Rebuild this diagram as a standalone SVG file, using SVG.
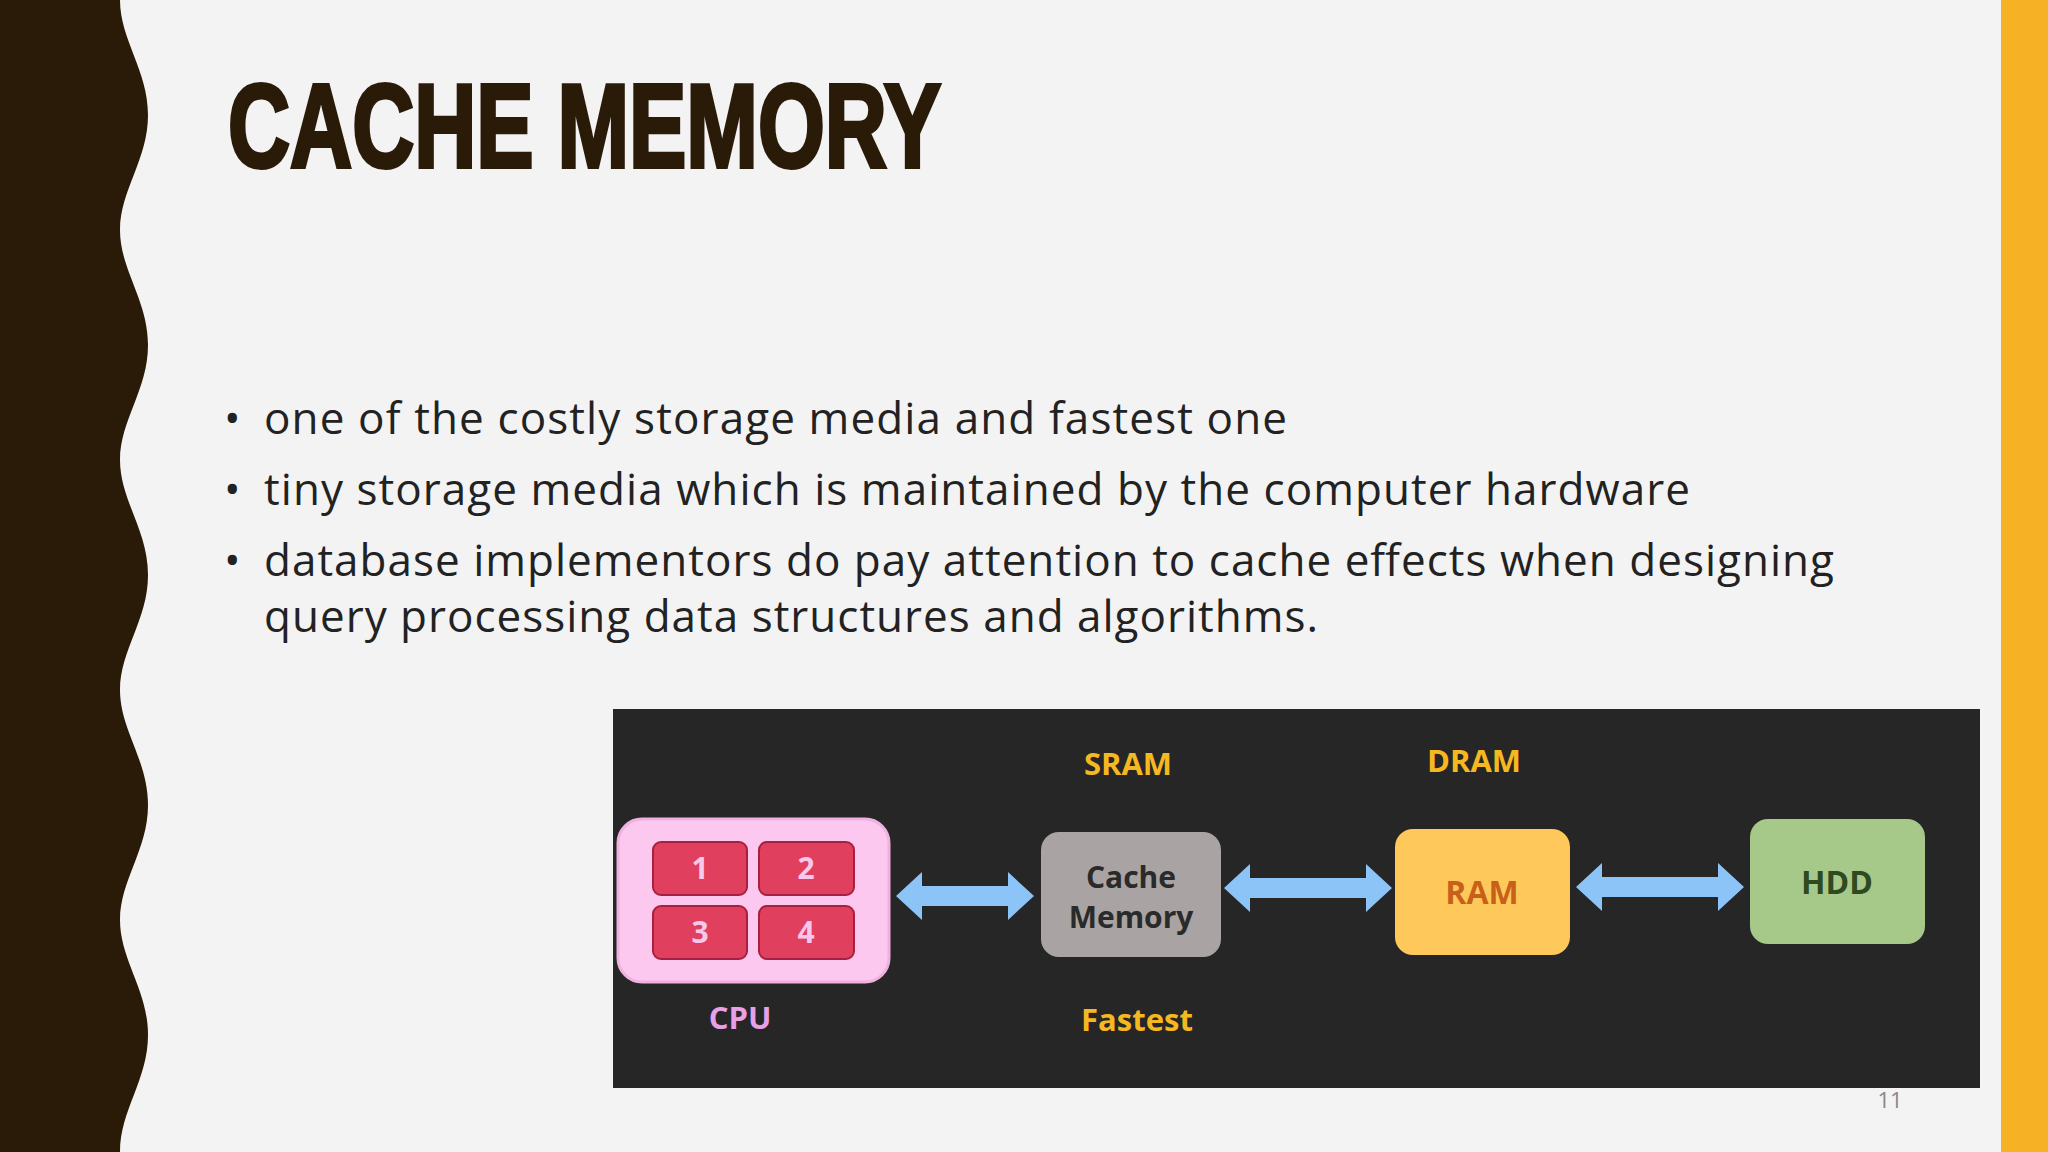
<svg xmlns="http://www.w3.org/2000/svg" width="2048" height="1152" viewBox="0 0 2048 1152">
<defs>
<style>
.b{font-family:"Open Sans","Noto Sans",sans-serif;font-size:44px;fill:#222}
.lbl{font-family:"Open Sans","Noto Sans",sans-serif;font-weight:bold;text-anchor:middle}
.core{fill:#e0405e;stroke:#a82040;stroke-width:2}
</style>
</defs>
<rect width="2048" height="1152" fill="#f3f3f4"/>
<path d="M0 0 H120 C120 40 148 70 148 115 C148 160 120 190 120 230 C120 270 148 300 148 345 C148 390 120 420 120 460 C120 500 148 530 148 575 C148 620 120 650 120 690 C120 730 148 760 148 805 C148 850 120 880 120 920 C120 960 148 990 148 1035 C148 1080 120 1110 120 1152 H0 Z" fill="#2a1a08"/>
<rect x="2001" y="0" width="47" height="1152" fill="#f7b125"/>
<text x="228" y="167" font-family="Liberation Sans,sans-serif" font-weight="bold" font-size="118" fill="#2a1a08" stroke="#2a1a08" stroke-width="4" textLength="713" lengthAdjust="spacingAndGlyphs">CACHE MEMORY</text>
<g id="bullets" class="b">
<text x="224" y="434">•</text><text x="264" y="434" textLength="1023" lengthAdjust="spacing">one of the costly storage media and fastest one</text>
<text x="224" y="505">•</text><text x="264" y="505" textLength="1426" lengthAdjust="spacing">tiny storage media which is maintained by the computer hardware</text>
<text x="224" y="576">•</text><text x="264" y="576" textLength="1570" lengthAdjust="spacing">database implementors do pay attention to cache effects when designing</text>
<text x="264" y="632" textLength="1054" lengthAdjust="spacing">query processing data structures and algorithms.</text>
</g>
<rect x="613" y="709" width="1367" height="379" fill="#262626"/>
<g id="cpu">
<rect x="618" y="819" width="271" height="163" rx="24" fill="#fcc8f0" stroke="#f0b0e0" stroke-width="3"/>
<rect class="core" x="653" y="842" width="94" height="53" rx="8"/>
<rect class="core" x="759" y="842" width="95" height="53" rx="8"/>
<rect class="core" x="653" y="906" width="94" height="53" rx="8"/>
<rect class="core" x="759" y="906" width="95" height="53" rx="8"/>
<g class="lbl" font-size="30" fill="#f8c8ec">
<text x="700" y="879">1</text><text x="806" y="879">2</text>
<text x="700" y="943">3</text><text x="806" y="943">4</text>
</g>
<text class="lbl" x="740" y="1029" font-size="31" fill="#e8a0e8">CPU</text>
</g>
<g id="cache">
<rect x="1041" y="832" width="180" height="125" rx="18" fill="#a9a4a3"/>
<text class="lbl" x="1131" y="888" font-size="30" fill="#2a2a2a">Cache</text>
<text class="lbl" x="1131" y="928" font-size="30" fill="#2a2a2a">Memory</text>
<text class="lbl" x="1128" y="775" font-size="31" fill="#f5b820">SRAM</text>
<text class="lbl" x="1137" y="1031" font-size="31" fill="#f5b820">Fastest</text>
</g>
<g id="ram">
<rect x="1395" y="829" width="175" height="126" rx="18" fill="#fec95a"/>
<text class="lbl" x="1482" y="904" font-size="32" fill="#c8601a">RAM</text>
<text class="lbl" x="1474" y="772" font-size="31" fill="#f5b820">DRAM</text>
</g>
<g id="hdd">
<rect x="1750" y="819" width="175" height="125" rx="18" fill="#a6c98a"/>
<text class="lbl" x="1837" y="894" font-size="32" fill="#2e4a20">HDD</text>
</g>
<g id="connectors" fill="#8cc4f8">
<path d="M896 896 L922 872 V886 H1008 V872 L1034 896 L1008 920 V906 H922 V920 Z"/>
<path d="M1224 888 L1250 864 V878 H1366 V864 L1392 888 L1366 912 V898 H1250 V912 Z"/>
<path d="M1576 887 L1602 863 V877 H1718 V863 L1744 887 L1718 911 V897 H1602 V911 Z"/>
</g>
<text x="1890" y="1108" font-family="Open Sans,sans-serif" font-size="22" fill="#888" text-anchor="middle">11</text>
</svg>
